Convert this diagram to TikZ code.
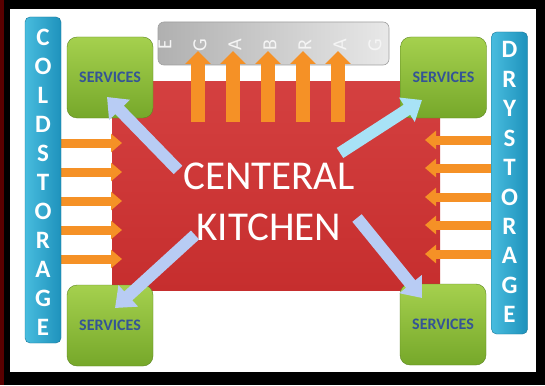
\documentclass[tikz,border=0pt]{standalone}
\usepackage{fontspec}
\setmainfont{Carlito}
\usetikzlibrary{arrows.meta}
\definecolor{kred}{RGB}{198,46,46}
\definecolor{kredtop}{RGB}{212,64,64}
\definecolor{barL}{RGB}{72,188,222}
\definecolor{barR}{RGB}{30,146,188}
\definecolor{gtop}{RGB}{165,208,78}
\definecolor{gbot}{RGB}{118,168,42}
\definecolor{svctext}{RGB}{52,84,150}
\definecolor{orng}{RGB}{245,145,38}
\definecolor{lblue}{RGB}{184,204,244}
\definecolor{cyanarr}{RGB}{168,226,246}
\tikzset{
  svc/.style={rounded corners=10pt, minimum width=86pt, minimum height=81pt,
    top color=gtop, bottom color=gbot, draw=gbot!80!black, line width=0.4pt,
    text=svctext, font=\fontsize{16}{18}\selectfont\bfseries},
  storebar/.style={rounded corners=5pt, minimum width=36pt, left color=barL, right color=barR,
    draw=barR!80!black, line width=0.4pt},
  storeletter/.style={text=white, font=\fontsize{25}{25}\selectfont\bfseries, inner sep=0pt,
    text height=16pt, text depth=0pt},
  garbletter/.style={text=gray!8, font=\fontsize{20}{20}\selectfont, inner sep=0pt, rotate=90,
    text height=12.9pt, text depth=0pt},
  uparrow/.style={orng, line width=14pt, -{Triangle[width=25pt,length=13pt]}},
  sidearrow/.style={orng, line width=9pt, -{Triangle[width=18pt,length=11pt]}},
  fatarrow/.style={line width=12pt, -{Triangle[width=28pt,length=18pt]}},
  ktext/.style={font=\fontsize{41}{51}\selectfont, align=center, inner sep=0pt}
}
\begin{document}
\begin{tikzpicture}[x=1pt,y=-1pt]
\useasboundingbox (0,0) rectangle (545,385);
% frame
\fill[black] (0,0) rectangle (545,385);
\fill[red!35!black] (0,0) rectangle (4,385);
\fill[white] (10,9) rectangle (536,372);
% kitchen square
\path[top color=kredtop, bottom color=kred] (112,82) rectangle (440,290);
% garbage box
\node[rounded corners=6pt, minimum width=231pt, minimum height=43pt,
  left color=gray!62, right color=gray!18, draw=gray!75, line width=0.6pt] (garb) at (273.5,43.5) {};
\foreach \l [count=\i from 0] in {E,G,A,B,R,A,G}{
  \node[garbletter] (g\i) at (165+35*\i,45) {\l};
}
% up arrows to garbage
\foreach \x [count=\i] in {198,233,268,303,338}{
  \coordinate (ub\i) at (\x,122);
  \coordinate (ut\i) at (\x,51);
  \draw[uparrow] (ub\i) -- (ut\i);
}
% left arrows (cold storage -> kitchen)
\foreach \y [count=\i] in {143,172,201,230,259}{
  \coordinate (lb\i) at (52,\y);
  \coordinate (lt\i) at (122,\y);
  \draw[sidearrow] (lb\i) -- (lt\i);
}
% right arrows (dry storage -> kitchen)
\foreach \y [count=\i] in {140,168,197,225,254}{
  \coordinate (rb\i) at (500,\y);
  \coordinate (rt\i) at (425,\y);
  \draw[sidearrow] (rb\i) -- (rt\i);
}
% storage bars
\node[storebar, minimum height=326pt] (cold) at (43,180) {};
\foreach \l [count=\i from 0] in {C,O,L,D,S,T,O,R,A,G,E}{
  \node[storeletter] (c\i) at (43,38+28.9*\i) {\l};
}
\node[storebar, minimum height=302pt] (dry) at (509.5,183) {};
\foreach \l [count=\i from 0] in {D,R,Y,S,T,O,R,A,G,E}{
  \node[storeletter] (d\i) at (509.5,50+29.4*\i) {\l};
}
% services
\node[svc] (s1) at (110,77.5) {SERVICES};
\node[svc] (s2) at (443.5,77.5) {SERVICES};
\node[svc] (s3) at (110,325.5) {SERVICES};
\node[svc] (s4) at (443,324.5) {SERVICES};
% kitchen text
\node[ktext, text=white] (kitchen) at (269,202) {CENTERAL\\KITCHEN};
% service arrows
\coordinate (a1) at (178,170);
\coordinate (a2) at (340,153);
\coordinate (a3) at (195,235);
\coordinate (a4) at (357,218);
\draw[fatarrow, lblue] (a1) -- (107,97);
\draw[fatarrow, cyanarr] (a2) -- (422,100);
\draw[fatarrow, lblue] (a3) -- (115,308);
\draw[fatarrow, lblue] (a4) -- (422,298);
\end{tikzpicture}
\end{document}
